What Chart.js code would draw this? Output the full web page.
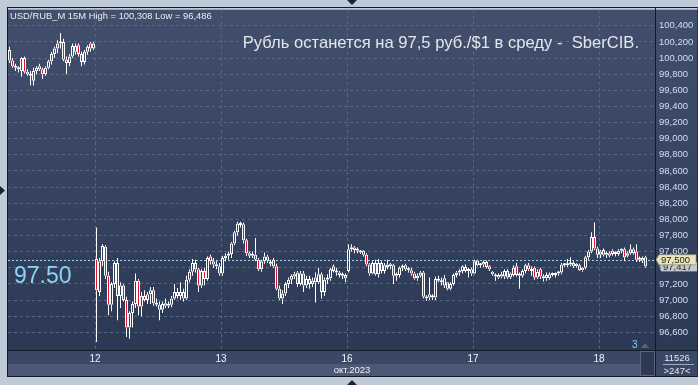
<!DOCTYPE html>
<html>
<head>
<meta charset="utf-8">
<script src="https://cdn.jsdelivr.net/npm/chart.js@4.4.0/dist/chart.umd.min.js"></script>
<style>
  html, body { margin: 0; padding: 0; background: #bfcad8; }
  #wrap { width: 698px; height: 385px; }
</style>
</head>
<body>
<div id="wrap"><canvas id="chart" width="698" height="385"></canvas></div>
<script>
// 15M candles, USD/RUB_M, 11..18 Oct 2023
const dayLabels = ["12", "13", "16", "17", "18"];
const dayStart = [29, 71, 113, 155, 197]; // index of first candle of each day
const yTicks = [96.6, 96.8, 97.0, 97.2, 97.4, 97.6, 97.8, 98.0, 98.2, 98.4,
  98.6, 98.8, 99.0, 99.2, 99.4, 99.6, 99.8, 100.0, 100.2, 100.4];
const refLevel = 97.5;

const open = [
  // 11
  100.10, 99.97, 99.90, 99.88, 99.84, 100.00, 99.83, 99.80, 99.72, 99.84,
  99.90, 99.86, 99.80, 99.88, 99.96, 100.05, 100.12, 100.18, 100.20, 99.98,
  99.94, 100.02, 100.15, 100.16, 100.05, 99.95, 100.08, 100.18, 100.12,
  // 12
  97.51, 97.10, 97.48, 97.66, 97.30, 96.94, 97.20, 97.46, 97.05, 97.18,
  97.00, 96.66, 96.84, 96.95, 97.24, 96.92, 97.05, 97.00, 97.07, 97.12,
  96.96, 96.94, 96.88, 96.96, 96.93, 96.94, 97.02, 97.10, 97.05, 97.10,
  97.02, 97.25, 97.35, 97.46, 97.38, 97.18, 97.36, 97.26, 97.54, 97.48, 97.44, 97.42,
  // 13
  97.33, 97.52, 97.55, 97.57, 97.70, 97.84, 97.95, 97.94, 97.74, 97.58,
  97.57, 97.56, 97.50, 97.38, 97.48, 97.54, 97.47, 97.50, 97.42, 97.14,
  97.02, 97.08, 97.20, 97.25, 97.32, 97.34, 97.20, 97.33, 97.18, 97.26, 97.20,
  97.28, 97.22, 97.32, 97.10, 97.25, 97.27, 97.42, 97.36, 97.34, 97.31, 97.31,
  // 16
  97.36, 97.63, 97.65, 97.62, 97.60, 97.61, 97.56, 97.44, 97.33, 97.46,
  97.32, 97.46, 97.36, 97.41, 97.44, 97.43, 97.30, 97.31, 97.40, 97.43,
  97.38, 97.37, 97.33, 97.27, 97.30,
  97.34, 97.04, 97.07, 97.03, 97.03, 97.26, 97.24, 97.18, 97.22, 97.14,
  97.20, 97.31, 97.34, 97.36, 97.41, 97.36, 97.38,
  // 17
  97.33, 97.49, 97.43, 97.44, 97.47, 97.42, 97.35, 97.29, 97.31, 97.32,
  97.29, 97.36, 97.28, 97.31, 97.42, 97.31, 97.30, 97.36, 97.43, 97.38,
  97.40, 97.28, 97.38, 97.29, 97.27, 97.27, 97.32, 97.31, 97.33, 97.34,
  97.44, 97.43, 97.45, 97.46, 97.42, 97.43, 97.40, 97.40, 97.53, 97.60,
  97.78, 97.64,
  // 18
  97.56, 97.62, 97.56, 97.58, 97.61, 97.57, 97.57, 97.61, 97.63, 97.55,
  97.58, 97.63, 97.60, 97.50, 97.49, 97.53
];
const high = [
  100.14, 100.00, 99.93, 99.90, 100.01, 100.02, 99.86, 99.84, 99.88, 99.90,
  99.93, 99.88, 99.90, 99.98, 100.08, 100.14, 100.22, 100.31, 100.24, 100.02,
  100.05, 100.18, 100.18, 100.18, 100.08, 100.10, 100.16, 100.20, 100.20,
  97.90, 97.52, 97.69, 97.68, 97.35, 97.22, 97.48, 97.52, 97.22, 97.20,
  97.04, 96.86, 96.98, 97.33, 97.26, 97.10, 97.12, 97.10, 97.16, 97.16,
  97.02, 96.98, 96.98, 97.02, 96.98, 97.05, 97.20, 97.15, 97.22, 97.14,
  97.30, 97.38, 97.51, 97.50, 97.40, 97.38, 97.40, 97.54, 97.56, 97.52, 97.48, 97.46,
  97.55, 97.58, 97.60, 97.72, 97.86, 97.97, 97.97, 97.96, 97.76, 97.60,
  97.60, 97.77, 97.52, 97.50, 97.59, 97.56, 97.50, 97.52, 97.45, 97.18,
  97.12, 97.22, 97.28, 97.32, 97.35, 97.36, 97.36, 97.36, 97.30, 97.30, 97.28,
  97.34, 97.40, 97.34, 97.28, 97.32, 97.40, 97.44, 97.40, 97.36, 97.34, 97.33,
  97.69, 97.69, 97.67, 97.65, 97.62, 97.62, 97.58, 97.46, 97.48, 97.50,
  97.51, 97.48, 97.46, 97.50, 97.46, 97.45, 97.34, 97.42, 97.44, 97.45,
  97.41, 97.40, 97.35, 97.33, 97.36,
  97.36, 97.06, 97.28, 97.07, 97.29, 97.30, 97.28, 97.31, 97.22, 97.22,
  97.33, 97.36, 97.38, 97.43, 97.44, 97.40, 97.40,
  97.50, 97.50, 97.46, 97.49, 97.49, 97.43, 97.36, 97.33, 97.33, 97.35,
  97.38, 97.38, 97.34, 97.43, 97.46, 97.34, 97.38, 97.45, 97.46, 97.42,
  97.42, 97.38, 97.40, 97.32, 97.34, 97.34, 97.34, 97.34, 97.36, 97.46,
  97.46, 97.51, 97.53, 97.48, 97.46, 97.45, 97.41, 97.55, 97.62, 97.84,
  97.96, 97.66,
  97.62, 97.64, 97.60, 97.60, 97.63, 97.60, 97.63, 97.64, 97.65, 97.60,
  97.69, 97.65, 97.69, 97.54, 97.54, 97.55
];
const low = [
  99.94, 99.88, 99.84, 99.82, 99.77, 99.81, 99.78, 99.66, 99.66, 99.80,
  99.84, 99.74, 99.78, 99.86, 99.92, 100.00, 100.06, 100.12, 99.96, 99.80,
  99.90, 100.00, 100.04, 100.02, 99.90, 99.92, 100.04, 100.08, 100.10,
  96.48, 97.05, 97.42, 97.26, 96.81, 96.86, 97.15, 96.75, 96.90, 96.98,
  96.54, 96.52, 96.66, 96.90, 96.81, 96.80, 96.98, 96.95, 96.95, 96.93,
  96.92, 96.75, 96.84, 96.90, 96.90, 96.91, 97.00, 97.02, 97.00, 96.98,
  97.00, 97.22, 97.30, 97.34, 97.10, 97.15, 97.18, 97.24, 97.44, 97.40, 97.38, 97.30,
  97.30, 97.48, 97.50, 97.52, 97.68, 97.80, 97.90, 97.70, 97.55, 97.52,
  97.52, 97.48, 97.36, 97.35, 97.45, 97.46, 97.42, 97.40, 97.12, 97.00,
  96.95, 97.05, 97.15, 97.20, 97.26, 97.16, 97.18, 97.10, 97.15, 97.14, 97.16,
  96.97, 97.20, 97.02, 97.05, 97.20, 97.24, 97.34, 97.30, 97.28, 97.26, 97.22,
  97.34, 97.60, 97.58, 97.58, 97.57, 97.54, 97.42, 97.30, 97.32, 97.30,
  97.28, 97.33, 97.33, 97.38, 97.38, 97.20, 97.24, 97.28, 97.36, 97.36,
  97.34, 97.30, 97.25, 97.24, 97.28,
  97.02, 96.99, 97.00, 97.00, 97.00, 97.22, 97.18, 97.15, 97.12, 97.12,
  97.18, 97.28, 97.30, 97.33, 97.34, 97.28, 97.30,
  97.32, 97.42, 97.40, 97.41, 97.39, 97.36, 97.30, 97.24, 97.26, 97.27,
  97.26, 97.26, 97.26, 97.29, 97.29, 97.14, 97.28, 97.33, 97.36, 97.30,
  97.25, 97.26, 97.26, 97.23, 97.24, 97.25, 97.29, 97.28, 97.30, 97.32,
  97.41, 97.41, 97.42, 97.40, 97.40, 97.36, 97.35, 97.38, 97.50, 97.58,
  97.62, 97.52,
  97.52, 97.54, 97.52, 97.53, 97.55, 97.54, 97.55, 97.58, 97.48, 97.53,
  97.56, 97.56, 97.47, 97.47, 97.46, 97.40
];
const close = [
  99.97, 99.90, 99.88, 99.86, 100.00, 99.83, 99.80, 99.78, 99.84, 99.88,
  99.86, 99.80, 99.88, 99.96, 100.05, 100.12, 100.18, 100.20, 99.98, 99.94,
  100.02, 100.15, 100.08, 100.05, 99.95, 100.08, 100.14, 100.12, 100.18,
  97.12, 97.48, 97.67, 97.30, 96.94, 97.20, 97.46, 97.05, 97.18, 97.00,
  96.66, 96.84, 96.95, 97.24, 96.92, 97.05, 97.00, 97.07, 97.12, 96.96,
  96.94, 96.88, 96.95, 96.93, 96.94, 97.02, 97.10, 97.05, 97.10, 97.02,
  97.25, 97.35, 97.46, 97.38, 97.18, 97.36, 97.26, 97.52, 97.48, 97.44, 97.42, 97.33,
  97.52, 97.55, 97.57, 97.70, 97.84, 97.95, 97.93, 97.74, 97.58, 97.55,
  97.55, 97.50, 97.38, 97.48, 97.54, 97.49, 97.45, 97.42, 97.14, 97.02,
  97.08, 97.20, 97.25, 97.30, 97.29, 97.20, 97.33, 97.18, 97.26, 97.20, 97.24,
  97.22, 97.32, 97.10, 97.25, 97.27, 97.38, 97.36, 97.34, 97.31, 97.30, 97.27,
  97.63, 97.65, 97.62, 97.61, 97.59, 97.56, 97.44, 97.33, 97.46, 97.32,
  97.46, 97.36, 97.43, 97.44, 97.42, 97.30, 97.31, 97.40, 97.42, 97.38,
  97.37, 97.33, 97.27, 97.30, 97.34,
  97.04, 97.02, 97.03, 97.05, 97.26, 97.24, 97.22, 97.27, 97.14, 97.20,
  97.31, 97.34, 97.36, 97.42, 97.36, 97.38, 97.33,
  97.48, 97.43, 97.44, 97.47, 97.41, 97.38, 97.32, 97.31, 97.28, 97.29,
  97.36, 97.28, 97.33, 97.40, 97.31, 97.30, 97.36, 97.43, 97.38, 97.36,
  97.28, 97.35, 97.29, 97.27, 97.31, 97.32, 97.31, 97.33, 97.34, 97.44,
  97.43, 97.45, 97.44, 97.42, 97.45, 97.37, 97.37, 97.53, 97.60, 97.78,
  97.64, 97.56,
  97.60, 97.56, 97.58, 97.55, 97.57, 97.58, 97.61, 97.62, 97.53, 97.58,
  97.63, 97.58, 97.50, 97.51, 97.52, 97.417
];

const W = 698, H = 385;
const bg = "#bfcad8";
const gridCol = "#56678a";

const idx = open.map((_, i) => i);
const bodies = idx.map(i => ({ x: i, y: [open[i], close[i]] }));
const upperWick = idx.map(i => ({ x: i, y: [Math.max(open[i], close[i]), high[i]] }));
const lowerWick = idx.map(i => ({ x: i, y: [low[i], Math.min(open[i], close[i])] }));

function tri(ctx, pts, col) {
  ctx.fillStyle = col;
  ctx.beginPath();
  ctx.moveTo(pts[0], pts[1]);
  ctx.lineTo(pts[2], pts[3]);
  ctx.lineTo(pts[4], pts[5]);
  ctx.closePath();
  ctx.fill();
}

const decor = {
  id: "decor",
  beforeDraw(chart) {
    const { ctx, chartArea: a } = chart;
    ctx.save();
    ctx.fillStyle = bg;
    ctx.fillRect(0, 0, W, H);
    const g = ctx.createLinearGradient(0, a.top, 0, a.bottom);
    g.addColorStop(0, "#414f6d");
    g.addColorStop(1, "#2c3955");
    ctx.fillStyle = g;
    ctx.fillRect(a.left, a.top, W - a.left, a.bottom - a.top);
    // bottom axis strip
    ctx.fillStyle = "#3a4866";
    ctx.fillRect(a.left, a.bottom, a.right - a.left, 14);
    ctx.fillStyle = "#4b5977";
    ctx.fillRect(a.left, a.bottom + 14, a.right - a.left, 12);
    ctx.fillStyle = "#3a4866";
    ctx.fillRect(a.right, a.bottom, W - a.right, 26);
    ctx.restore();
  },
  beforeDatasetsDraw(chart) {
    const { ctx, chartArea: a, scales } = chart;
    const y = Math.round(scales.y.getPixelForValue(refLevel)) + 0.5;
    ctx.save();
    ctx.strokeStyle = "#a4d6ee";
    ctx.lineWidth = 1;
    ctx.setLineDash([2, 2]);
    ctx.beginPath();
    ctx.moveTo(a.left, y);
    ctx.lineTo(a.right, y);
    ctx.stroke();
    ctx.restore();
  },
  afterDraw(chart) {
    const { ctx, chartArea: a, scales } = chart;
    ctx.save();
    ctx.textBaseline = "alphabetic";

    // texts on the plot
    ctx.fillStyle = "#e8edf5";
    ctx.font = "9.4px 'Liberation Sans'";
    ctx.textAlign = "left";
    ctx.fillText("USD/RUB_M 15M High = 100,308 Low = 96,486", 10, 19);

    ctx.fillStyle = "#e3e6eb";
    ctx.font = "16.6px 'Liberation Sans'";
    ctx.textAlign = "right";
    ctx.fillText("Рубль останется на 97,5 руб./$1 в среду -  SberCIB.", 639, 47.5);

    ctx.fillStyle = "#8dd3f6";
    ctx.font = "23px 'Liberation Sans'";
    ctx.textAlign = "left";
    ctx.fillText("97.50", 14, 283);

    ctx.fillStyle = "#8fc8f0";
    ctx.font = "10px 'Liberation Sans'";
    ctx.fillText("3", 632, 348);
    tri(ctx, [641, 348, 649, 348, 645, 343], "#56627c");

    // price markers on the right axis
    const yr = scales.y.getPixelForValue(refLevel);
    const last = close[close.length - 1];
    const yl = scales.y.getPixelForValue(last);
    ctx.font = "9.5px 'Liberation Sans'";
    ctx.fillStyle = "#c3c7ce";
    ctx.fillRect(661, yl - 4.5, 36, 9.5);
    ctx.fillStyle = "#2a2a2a";
    ctx.fillText(last.toFixed(3).replace(".", ","), 663, yl + 3.5);
    ctx.fillStyle = "#e9e5b8";
    ctx.beginPath();
    ctx.moveTo(656, yr);
    ctx.lineTo(659, yr - 5);
    ctx.lineTo(696, yr - 5);
    ctx.lineTo(696, yr + 5);
    ctx.lineTo(659, yr + 5);
    ctx.closePath();
    ctx.fill();
    ctx.strokeStyle = "#9a9470";
    ctx.lineWidth = 0.6;
    ctx.stroke();
    ctx.fillStyle = "#1e1e1e";
    ctx.fillText(refLevel.toFixed(3).replace(".", ","), 661, yr + 3.5);

    // bottom strip texts
    ctx.fillStyle = "#eef2f8";
    ctx.textAlign = "center";
    ctx.fillText("окт.2023", 352, 373);
    ctx.fillStyle = "#2e3a54";
    ctx.fillRect(640, a.bottom + 1, 15, 25);
    ctx.strokeStyle = "#5a6782";
    ctx.lineWidth = 1;
    ctx.strokeRect(640.5, a.bottom + 1.5, 14, 24);
    ctx.fillStyle = "#e2e9f4";
    ctx.fillText("11526", 677, 361);
    ctx.fillText(">247<", 677, 374);
    ctx.strokeStyle = "#a0aabb";
    ctx.beginPath();
    ctx.moveTo(663, 364.5);
    ctx.lineTo(694, 364.5);
    ctx.stroke();

    // frame lines
    ctx.strokeStyle = "#121a28";
    ctx.lineWidth = 1;
    ctx.strokeRect(7.5, 7.5, W - 7.5, 369);
    ctx.beginPath();
    ctx.moveTo(a.right + 0.5, 7);
    ctx.lineTo(a.right + 0.5, 377);
    ctx.moveTo(7, a.bottom + 0.5);
    ctx.lineTo(W, a.bottom + 0.5);
    ctx.stroke();

    // little arrows on the outer frame
    tri(ctx, [347, 0, 357, 0, 352, 5], "#1c2434");
    tri(ctx, [0, 186, 0, 195, 5, 190.5], "#1c2434");
    tri(ctx, [347, 385, 357, 385, 352, 380], "#1c2434");
    ctx.restore();
  }
};

const barCommon = {
  type: "bar",
  grouped: false,
  inflateAmount: 0,
  borderSkipped: false
};

new Chart(document.getElementById("chart"), {
  data: {
    datasets: [
      {
        ...barCommon,
        data: bodies,
        barThickness: 3,
        borderWidth: 1,
        borderColor: "#ffffff",
        minBarLength: 2,
        backgroundColor: (c) =>
          close[c.dataIndex] < open[c.dataIndex] ? "#e6112d" : "rgba(0,0,0,0)"
      },
      {
        ...barCommon,
        data: upperWick,
        barThickness: 1,
        borderWidth: 0,
        backgroundColor: "#ffffff"
      },
      {
        ...barCommon,
        data: lowerWick,
        barThickness: 1,
        borderWidth: 0,
        backgroundColor: "#ffffff"
      }
    ]
  },
  options: {
    responsive: false,
    animation: false,
    devicePixelRatio: 1,
    layout: { padding: { left: 8, top: 8, right: 0, bottom: 9 } },
    plugins: { legend: { display: false }, tooltip: { enabled: false } },
    scales: {
      x: {
        type: "linear",
        offset: false,
        min: -0.5,
        max: (647 - 1.5) / 3,
        afterBuildTicks: (s) => {
          s.ticks = dayStart.map((v) => ({ value: v - 0.5 }));
        },
        afterFit: (s) => {
          s.height = 26;
        },
        ticks: {
          color: "#f2f5fa",
          font: { family: "Liberation Sans", size: 10 },
          padding: 3,
          maxRotation: 0,
          autoSkip: false,
          callback: (v, k) => dayLabels[k]
        },
        grid: { color: gridCol, drawTicks: false, offset: false },
        border: { display: false, dash: [3, 3] }
      },
      y: {
        position: "right",
        min: 96.38,
        max: 100.6,
        afterBuildTicks: (s) => {
          s.ticks = yTicks.map((v) => ({ value: v }));
        },
        afterFit: (s) => {
          s.width = 43;
        },
        ticks: {
          color: "#d3dff0",
          font: { family: "Liberation Sans", size: 9.5 },
          padding: 4,
          autoSkip: false,
          callback: (v) => v.toFixed(3).replace(".", ",")
        },
        grid: { color: gridCol, drawTicks: false },
        border: { display: false, dash: [3, 3] }
      }
    }
  },
  plugins: [decor]
});
</script>
</body>
</html>
